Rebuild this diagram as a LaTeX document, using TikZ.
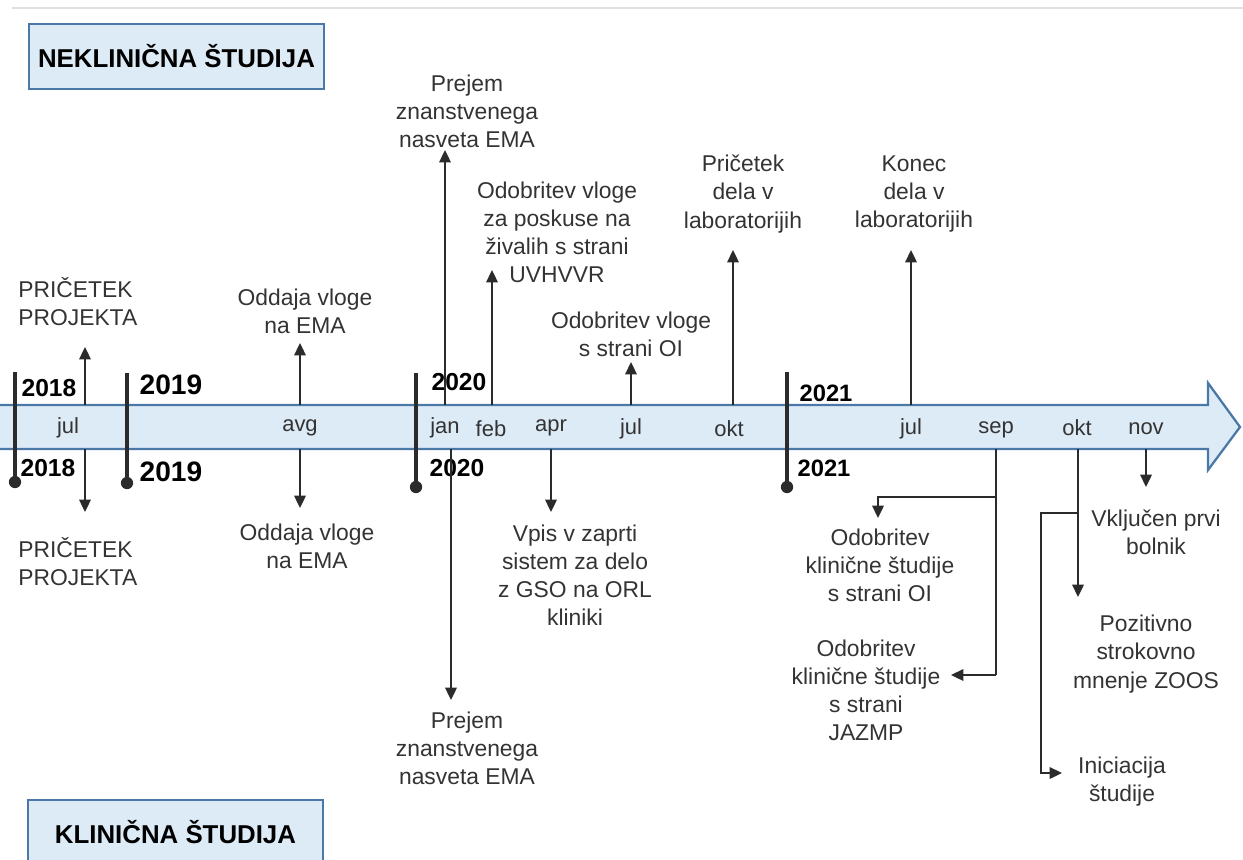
\documentclass[tikz,border=0pt]{standalone}
\usepackage{fontspec}
\setmainfont{Liberation Sans}
\usetikzlibrary{arrows.meta}
\definecolor{bandfill}{HTML}{DDEBF7}
\definecolor{bandline}{HTML}{4A79A8}
\definecolor{txt}{HTML}{333333}
\definecolor{lin}{HTML}{2B2B2B}
\tikzset{
  ev/.style={align=center,text=txt,font=\fontsize{13}{16}\selectfont,inner sep=0pt},
  mon/.style={text=txt,font=\fontsize{12.5}{15}\selectfont,inner sep=0pt},
  yr/.style={text=black,font=\bfseries\fontsize{14}{16}\selectfont,inner sep=0pt},
  yrbig/.style={text=black,font=\bfseries\fontsize{16}{18}\selectfont,inner sep=0pt},
  conn/.style={draw=lin,line width=1.1pt},
  arr/.style={conn,-{Triangle[length=7pt,width=6.5pt]}},
  tick/.style={draw=lin,line width=1.8pt},
  dot/.style={circle,fill=lin,inner sep=0pt,minimum size=7pt},
  titlebox/.style={draw=bandline,fill=bandfill,line width=1.2pt,minimum width=297*0.567pt,minimum height=65*0.567pt,font=\bfseries\fontsize{14.7}{17}\selectfont,text=black}
}
\begin{document}
\begin{tikzpicture}[x=0.02cm,y=-0.02cm]
\useasboundingbox (0,0) rectangle (1243,859);
\draw[black!12,line width=0.9pt] (12,8) -- (1243,8);
% band
\fill[bandfill] (0,405) -- (1208,405) -- (1208,383) -- (1240,427) -- (1208,470) -- (1208,449) -- (0,449) -- cycle;
\draw[bandline,line width=1.3pt,line join=miter] (0,405) -- (1208,405) -- (1208,383) -- (1240,427) -- (1208,470) -- (1208,449) -- (0,449);
\coordinate (bt) at (0,405);
\coordinate (bb) at (0,449);
% boxes
\node[titlebox] (nekl) at (176.5,56.5) {NEKLINIČNA ŠTUDIJA};
\node[titlebox] (klin) at (175.5,832.5) {KLINIČNA ŠTUDIJA};
% months
\node[mon] (m1) at (68,428) {jul};
\node[mon] (m2) at (300,428) {avg};
\node[mon] (m3) at (445,428) {jan};
\node[mon] (m4) at (491,429) {feb};
\node[mon] (m5) at (551,428) {apr};
\node[mon] (m6) at (631,429) {jul};
\node[mon] (m7) at (729,429) {okt};
\node[mon] (m8) at (911,429) {jul};
\node[mon] (m9) at (996,430) {sep};
\node[mon] (m10) at (1077,428) {okt};
\node[mon] (m11) at (1146,429) {nov};
% year ticks
\node[dot] (d18) at (15,482) {};
\node[dot] (d19) at (127,483) {};
\node[dot] (d20) at (416,487) {};
\node[dot] (d21) at (787,487) {};
\coordinate (t18) at (15,372);
\coordinate (t19) at (127,373);
\coordinate (t20) at (416,373);
\coordinate (t21) at (787,372);
\draw[tick] (t18) -- (d18.center);
\draw[tick] (t19) -- (d19.center);
\draw[tick] (t20) -- (d20.center);
\draw[tick] (t21) -- (d21.center);
\node[yr] (y18a) at (49,388) {2018};
\node[yr] (y18b) at (48,468) {2018};
\node[yrbig] (y19a) at (171,385) {2019};
\node[yrbig] (y19b) at (171,472) {2019};
\node[yr] (y20a) at (459,382) {2020};
\node[yr] (y20b) at (457,468) {2020};
\node[yr,font=\bfseries\fontsize{13.5}{16}\selectfont] (y21a) at (826,393) {2021};
\node[yr,font=\bfseries\fontsize{13.5}{16}\selectfont] (y21b) at (824,468) {2021};
% events
\node[ev,align=left,anchor=west] (prU) at (18,302) {PRIČETEK\\PROJEKTA};
\node[ev,align=left,anchor=west] (prD) at (18,562) {PRIČETEK\\PROJEKTA};
\node[ev] (odU) at (305,311) {Oddaja vloge\\na EMA};
\node[ev] (odD) at (307,546) {Oddaja vloge\\na EMA};
\node[ev] (pjU) at (467,111) {Prejem\\znanstvenega\\nasveta EMA};
\node[ev] (pjD) at (467,748) {Prejem\\znanstvenega\\nasveta EMA};
\node[ev] (uvh) at (557,232) {Odobritev vloge\\za poskuse na\\živalih s strani\\UVHVVR};
\node[ev] (vpis) at (575,575) {Vpis v zaprti\\sistem za delo\\z GSO na ORL\\kliniki};
\node[ev] (oi20) at (631,334) {Odobritev vloge\\s strani OI};
\node[ev] (pric) at (743,194) {Pričetek\\dela v\\laboratorijih};
\node[ev] (kon) at (914,194) {Konec\\dela v\\laboratorijih};
\node[ev] (kioi) at (880,565) {Odobritev\\klinične študije\\s strani OI};
\node[ev] (jaz) at (866,690) {Odobritev\\klinične študije\\s strani\\JAZMP};
\node[ev] (zoos) at (1146,654) {Pozitivno\\strokovno\\mnenje ZOOS};
\node[ev] (inic) at (1122,782) {Iniciacija\\študije};
\node[ev] (bol) at (1156,532) {Vključen prvi\\bolnik};
% arrow tips
\coordinate (a1) at (85,347);   \coordinate (a2) at (85,512);
\coordinate (a3) at (300,343);  \coordinate (a4) at (300,508);
\coordinate (a5) at (445,150);  \coordinate (a6) at (451,700);
\coordinate (a7) at (492,270);  \coordinate (a8) at (551,512);
\coordinate (a9) at (631,362);  \coordinate (a10) at (733,250);
\coordinate (a11) at (911,250); \coordinate (a12) at (1146,487);
\draw[arr] (85,405) -- (a1);
\draw[arr] (85,449) -- (a2);
\draw[arr] (300,405) -- (a3);
\draw[arr] (300,449) -- (a4);
\draw[arr] (445,405) -- (a5);
\draw[arr] (451,449) -- (a6);
\draw[arr] (492,405) -- (a7);
\draw[arr] (551,449) -- (a8);
\draw[arr] (631,405) -- (a9);
\draw[arr] (733,405) -- (a10);
\draw[arr] (911,405) -- (a11);
\draw[arr] (1146,449) -- (a12);
% sep branches
\coordinate (s0) at (996,449);
\coordinate (s1) at (996,497);
\coordinate (s2) at (996,675);
\coordinate (s3) at (878,518);
\coordinate (s4) at (951,675);
\draw[conn] (s0) -- (s2);
\draw[arr] (s1) -| (s3);
\draw[arr] (s2) -- (s4);
% okt 2021 branches
\coordinate (o0) at (1078,449);
\coordinate (o1) at (1078,597);
\coordinate (o2) at (1078,513);
\coordinate (o3) at (1041,773);
\coordinate (o4) at (1062,773);
\draw[arr] (o0) -- (o1);
\draw[arr] (o2) -- (1041,513) -- (o3) -- (o4);
\end{tikzpicture}
\end{document}
